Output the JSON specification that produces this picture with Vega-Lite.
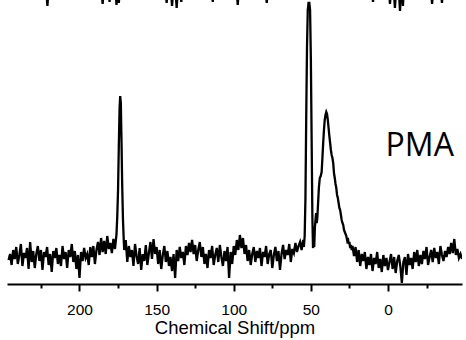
{
  "$schema": "https://vega.github.io/schema/vega-lite/v6.json",
  "width": 455,
  "height": 284,
  "autosize": "none",
  "padding": {"left": 7, "top": 0, "right": 4, "bottom": 56},
  "background": "white",
  "config": {"view": {"stroke": null}},
  "datasets": {
    "spec": [
      {"s":"PMA","x":246,"y":-2},{"s":"PMA","x":245,"y":4},{"s":"PMA","x":244,"y":-7},{"s":"PMA","x":243,"y":8},{"s":"PMA","x":242,"y":-1},{"s":"PMA","x":241,"y":11},{"s":"PMA","x":240,"y":-6},{"s":"PMA","x":239,"y":3},{"s":"PMA","x":238,"y":14},{"s":"PMA","x":237,"y":-8},
      {"s":"PMA","x":236,"y":5},{"s":"PMA","x":235,"y":0},{"s":"PMA","x":234,"y":10},{"s":"PMA","x":233,"y":-11},{"s":"PMA","x":232,"y":16},{"s":"PMA","x":231,"y":-4},{"s":"PMA","x":230,"y":7},{"s":"PMA","x":229,"y":-10},{"s":"PMA","x":228,"y":4},{"s":"PMA","x":227,"y":12},
      {"s":"PMA","x":226,"y":-3},{"s":"PMA","x":225,"y":8},{"s":"PMA","x":224,"y":-12},{"s":"PMA","x":223,"y":6},{"s":"PMA","x":222,"y":1},{"s":"PMA","x":221,"y":11},{"s":"PMA","x":220,"y":-7},{"s":"PMA","x":219,"y":4},{"s":"PMA","x":218,"y":-14},{"s":"PMA","x":217,"y":7},
      {"s":"PMA","x":216,"y":0},{"s":"PMA","x":215,"y":10},{"s":"PMA","x":214,"y":-6},{"s":"PMA","x":213,"y":3},{"s":"PMA","x":212,"y":-8},{"s":"PMA","x":211,"y":12},{"s":"PMA","x":210,"y":-1},{"s":"PMA","x":209,"y":6},{"s":"PMA","x":208,"y":-10},{"s":"PMA","x":207,"y":8},
      {"s":"PMA","x":206,"y":1},{"s":"PMA","x":205,"y":14},{"s":"PMA","x":204,"y":-4},{"s":"PMA","x":203,"y":7},{"s":"PMA","x":202,"y":-11},{"s":"PMA","x":201,"y":3},{"s":"PMA","x":200,"y":-20},{"s":"PMA","x":199,"y":6},{"s":"PMA","x":198,"y":-3},{"s":"PMA","x":197,"y":10},
      {"s":"PMA","x":196,"y":0},{"s":"PMA","x":195,"y":4},{"s":"PMA","x":194,"y":-7},{"s":"PMA","x":193,"y":11},{"s":"PMA","x":192,"y":1},{"s":"PMA","x":191,"y":12},{"s":"PMA","x":190,"y":-6},{"s":"PMA","x":189,"y":8},{"s":"PMA","x":188,"y":16},{"s":"PMA","x":187,"y":3},
      {"s":"PMA","x":186,"y":20},{"s":"PMA","x":185,"y":6},{"s":"PMA","x":184,"y":17},{"s":"PMA","x":183,"y":4},{"s":"PMA","x":182,"y":22},{"s":"PMA","x":181,"y":9},{"s":"PMA","x":180,"y":15},{"s":"PMA","x":179,"y":5},{"s":"PMA","x":178,"y":19},{"s":"PMA","x":177,"y":9},
      {"s":"PMA","x":176,"y":24},{"s":"PMA","x":175.5,"y":42},{"s":"PMA","x":175,"y":68},{"s":"PMA","x":174.5,"y":112},{"s":"PMA","x":174,"y":150},{"s":"PMA","x":173.6,"y":162},{"s":"PMA","x":173.2,"y":155},{"s":"PMA","x":172.8,"y":120},{"s":"PMA","x":172.3,"y":72},{"s":"PMA","x":171.8,"y":38},
      {"s":"PMA","x":171.3,"y":18},{"s":"PMA","x":171,"y":8},{"s":"PMA","x":170,"y":18},{"s":"PMA","x":169,"y":-4},{"s":"PMA","x":168,"y":12},{"s":"PMA","x":167,"y":1},{"s":"PMA","x":166,"y":8},{"s":"PMA","x":165,"y":-8},{"s":"PMA","x":164,"y":14},{"s":"PMA","x":163,"y":2},
      {"s":"PMA","x":162,"y":-6},{"s":"PMA","x":161,"y":10},{"s":"PMA","x":160,"y":-12},{"s":"PMA","x":159,"y":4},{"s":"PMA","x":158,"y":-3},{"s":"PMA","x":157,"y":13},{"s":"PMA","x":156,"y":-7},{"s":"PMA","x":155,"y":5},{"s":"PMA","x":154,"y":16},{"s":"PMA","x":153,"y":-1},
      {"s":"PMA","x":152,"y":19},{"s":"PMA","x":151,"y":4},{"s":"PMA","x":150,"y":11},{"s":"PMA","x":149,"y":-6},{"s":"PMA","x":148,"y":8},{"s":"PMA","x":147,"y":-11},{"s":"PMA","x":146,"y":3},{"s":"PMA","x":145,"y":12},{"s":"PMA","x":144,"y":-4},{"s":"PMA","x":143,"y":7},
      {"s":"PMA","x":142,"y":-8},{"s":"PMA","x":141,"y":1},{"s":"PMA","x":140,"y":-13},{"s":"PMA","x":139,"y":4},{"s":"PMA","x":138,"y":-20},{"s":"PMA","x":137,"y":8},{"s":"PMA","x":136,"y":-3},{"s":"PMA","x":135,"y":11},{"s":"PMA","x":134,"y":0},{"s":"PMA","x":133,"y":6},
      {"s":"PMA","x":132,"y":-7},{"s":"PMA","x":131,"y":12},{"s":"PMA","x":130,"y":3},{"s":"PMA","x":129,"y":15},{"s":"PMA","x":128,"y":6},{"s":"PMA","x":127,"y":18},{"s":"PMA","x":126,"y":4},{"s":"PMA","x":125,"y":13},{"s":"PMA","x":124,"y":-3},{"s":"PMA","x":123,"y":8},
      {"s":"PMA","x":122,"y":16},{"s":"PMA","x":121,"y":1},{"s":"PMA","x":120,"y":11},{"s":"PMA","x":119,"y":-6},{"s":"PMA","x":118,"y":4},{"s":"PMA","x":117,"y":-10},{"s":"PMA","x":116,"y":8},{"s":"PMA","x":115,"y":0},{"s":"PMA","x":114,"y":12},{"s":"PMA","x":113,"y":-7},
      {"s":"PMA","x":112,"y":3},{"s":"PMA","x":111,"y":10},{"s":"PMA","x":110,"y":-4},{"s":"PMA","x":109,"y":13},{"s":"PMA","x":108,"y":1},{"s":"PMA","x":107,"y":-8},{"s":"PMA","x":106,"y":7},{"s":"PMA","x":105,"y":-3},{"s":"PMA","x":104,"y":11},{"s":"PMA","x":103,"y":-20},
      {"s":"PMA","x":102,"y":6},{"s":"PMA","x":101,"y":-6},{"s":"PMA","x":100,"y":12},{"s":"PMA","x":99,"y":3},{"s":"PMA","x":98,"y":18},{"s":"PMA","x":97,"y":8},{"s":"PMA","x":96,"y":23},{"s":"PMA","x":95,"y":10},{"s":"PMA","x":94,"y":20},{"s":"PMA","x":93,"y":4},
      {"s":"PMA","x":92,"y":13},{"s":"PMA","x":91,"y":-3},{"s":"PMA","x":90,"y":8},{"s":"PMA","x":89,"y":-7},{"s":"PMA","x":88,"y":4},{"s":"PMA","x":87,"y":11},{"s":"PMA","x":86,"y":-4},{"s":"PMA","x":85,"y":7},{"s":"PMA","x":84,"y":0},{"s":"PMA","x":83,"y":10},
      {"s":"PMA","x":82,"y":-8},{"s":"PMA","x":81,"y":6},{"s":"PMA","x":80,"y":1},{"s":"PMA","x":79,"y":12},{"s":"PMA","x":78,"y":-6},{"s":"PMA","x":77,"y":4},{"s":"PMA","x":76,"y":8},{"s":"PMA","x":75,"y":-10},{"s":"PMA","x":74,"y":3},{"s":"PMA","x":73,"y":11},
      {"s":"PMA","x":72,"y":-3},{"s":"PMA","x":71,"y":7},{"s":"PMA","x":70,"y":-12},{"s":"PMA","x":69,"y":4},{"s":"PMA","x":68,"y":13},{"s":"PMA","x":67,"y":-1},{"s":"PMA","x":66,"y":8},{"s":"PMA","x":65,"y":3},{"s":"PMA","x":64,"y":14},{"s":"PMA","x":63,"y":-4},
      {"s":"PMA","x":62,"y":9},{"s":"PMA","x":61,"y":5},{"s":"PMA","x":60,"y":15},{"s":"PMA","x":59,"y":6},{"s":"PMA","x":58,"y":12},{"s":"PMA","x":57,"y":16},{"s":"PMA","x":56,"y":8},{"s":"PMA","x":55,"y":18},{"s":"PMA","x":54.5,"y":11},{"s":"PMA","x":54,"y":22},
      {"s":"PMA","x":53.5,"y":60},{"s":"PMA","x":53,"y":140},{"s":"PMA","x":52.5,"y":210},{"s":"PMA","x":52,"y":248},{"s":"PMA","x":51.5,"y":255},{"s":"PMA","x":51,"y":255},{"s":"PMA","x":50.5,"y":248},{"s":"PMA","x":50,"y":200},{"s":"PMA","x":49.5,"y":120},{"s":"PMA","x":49,"y":40},
      {"s":"PMA","x":48.6,"y":10},{"s":"PMA","x":48.2,"y":14},{"s":"PMA","x":47.8,"y":11},{"s":"PMA","x":47.4,"y":30},{"s":"PMA","x":47,"y":38},{"s":"PMA","x":46.6,"y":45},{"s":"PMA","x":46.2,"y":35},{"s":"PMA","x":45.8,"y":40},{"s":"PMA","x":45.3,"y":55},{"s":"PMA","x":44.8,"y":70},
      {"s":"PMA","x":44.2,"y":80},{"s":"PMA","x":43.6,"y":82},{"s":"PMA","x":43,"y":86},{"s":"PMA","x":42.5,"y":100},{"s":"PMA","x":42,"y":115},{"s":"PMA","x":41.5,"y":128},{"s":"PMA","x":41,"y":138},{"s":"PMA","x":40.5,"y":143},{"s":"PMA","x":40,"y":146},{"s":"PMA","x":39.5,"y":144},
      {"s":"PMA","x":39,"y":138},{"s":"PMA","x":38.5,"y":130},{"s":"PMA","x":38,"y":122},{"s":"PMA","x":37.5,"y":115},{"s":"PMA","x":37,"y":108},{"s":"PMA","x":36.5,"y":103},{"s":"PMA","x":36,"y":100},{"s":"PMA","x":35.5,"y":95},{"s":"PMA","x":35,"y":85},{"s":"PMA","x":34.5,"y":80},
      {"s":"PMA","x":34,"y":74},{"s":"PMA","x":33.5,"y":70},{"s":"PMA","x":33,"y":63},{"s":"PMA","x":32.5,"y":60},{"s":"PMA","x":32,"y":55},{"s":"PMA","x":31.5,"y":50},{"s":"PMA","x":31,"y":48},{"s":"PMA","x":30.5,"y":43},{"s":"PMA","x":30,"y":38},{"s":"PMA","x":29.5,"y":35},
      {"s":"PMA","x":29,"y":33},{"s":"PMA","x":28.5,"y":28},{"s":"PMA","x":28,"y":26},{"s":"PMA","x":27.5,"y":24},{"s":"PMA","x":27,"y":22},{"s":"PMA","x":26.5,"y":18},{"s":"PMA","x":26,"y":20},{"s":"PMA","x":25.5,"y":14},{"s":"PMA","x":25,"y":16},{"s":"PMA","x":24.5,"y":10},
      {"s":"PMA","x":24,"y":13},{"s":"PMA","x":23.5,"y":8},{"s":"PMA","x":23,"y":12},{"s":"PMA","x":22,"y":2},{"s":"PMA","x":21,"y":11},{"s":"PMA","x":20,"y":-4},{"s":"PMA","x":19,"y":8},{"s":"PMA","x":18,"y":-8},{"s":"PMA","x":17,"y":4},{"s":"PMA","x":16,"y":-3},
      {"s":"PMA","x":15,"y":6},{"s":"PMA","x":14,"y":-11},{"s":"PMA","x":13,"y":1},{"s":"PMA","x":12,"y":-7},{"s":"PMA","x":11,"y":4},{"s":"PMA","x":10,"y":-13},{"s":"PMA","x":9,"y":0},{"s":"PMA","x":8,"y":-6},{"s":"PMA","x":7,"y":6},{"s":"PMA","x":6,"y":-10},
      {"s":"PMA","x":5,"y":-1},{"s":"PMA","x":4,"y":-14},{"s":"PMA","x":3,"y":3},{"s":"PMA","x":2,"y":-8},{"s":"PMA","x":1,"y":0},{"s":"PMA","x":0,"y":-12},{"s":"PMA","x":-1,"y":-4},{"s":"PMA","x":-2,"y":4},{"s":"PMA","x":-3,"y":-11},{"s":"PMA","x":-4,"y":1},
      {"s":"PMA","x":-5,"y":-15},{"s":"PMA","x":-6,"y":-3},{"s":"PMA","x":-7,"y":3},{"s":"PMA","x":-8,"y":-8},{"s":"PMA","x":-9,"y":-25},{"s":"PMA","x":-10,"y":-4},{"s":"PMA","x":-11,"y":1},{"s":"PMA","x":-12,"y":-17},{"s":"PMA","x":-13,"y":4},{"s":"PMA","x":-14,"y":-7},
      {"s":"PMA","x":-15,"y":0},{"s":"PMA","x":-16,"y":-11},{"s":"PMA","x":-17,"y":6},{"s":"PMA","x":-18,"y":-4},{"s":"PMA","x":-19,"y":8},{"s":"PMA","x":-20,"y":-8},{"s":"PMA","x":-21,"y":3},{"s":"PMA","x":-22,"y":-6},{"s":"PMA","x":-23,"y":7},{"s":"PMA","x":-24,"y":-1},
      {"s":"PMA","x":-25,"y":11},{"s":"PMA","x":-26,"y":-7},{"s":"PMA","x":-27,"y":1},{"s":"PMA","x":-28,"y":8},{"s":"PMA","x":-29,"y":-4},{"s":"PMA","x":-30,"y":10},{"s":"PMA","x":-31,"y":0},{"s":"PMA","x":-32,"y":6},{"s":"PMA","x":-33,"y":-6},{"s":"PMA","x":-34,"y":12},
      {"s":"PMA","x":-35,"y":3},{"s":"PMA","x":-36,"y":-3},{"s":"PMA","x":-37,"y":7},{"s":"PMA","x":-38,"y":1},{"s":"PMA","x":-39,"y":11},{"s":"PMA","x":-40,"y":4},{"s":"PMA","x":-41,"y":15},{"s":"PMA","x":-42,"y":5},{"s":"PMA","x":-43,"y":19},{"s":"PMA","x":-44,"y":3},
      {"s":"PMA","x":-45,"y":9},{"s":"PMA","x":-46,"y":0},{"s":"PMA","x":-47,"y":4},{"s":"PMA","x":-48,"y":-1},
      {"s":"top","x":247,"y":275},{"s":"top","x":221.8,"y":275},{"s":"top","x":220.8,"y":252},{"s":"top","x":219.8,"y":275},{"s":"top","x":186,"y":275},{"s":"top","x":185,"y":254},{"s":"top","x":184,"y":275},{"s":"top","x":181.5,"y":275},{"s":"top","x":180.5,"y":256},{"s":"top","x":179.5,"y":275},
      {"s":"top","x":177,"y":275},{"s":"top","x":176,"y":253},{"s":"top","x":175,"y":275},{"s":"top","x":174.5,"y":255},{"s":"top","x":173.5,"y":275},{"s":"top","x":144.5,"y":275},{"s":"top","x":143.5,"y":255},{"s":"top","x":142.5,"y":275},{"s":"top","x":141,"y":275},{"s":"top","x":140,"y":252},
      {"s":"top","x":139,"y":275},{"s":"top","x":138,"y":275},{"s":"top","x":137,"y":250},{"s":"top","x":136,"y":275},{"s":"top","x":135,"y":275},{"s":"top","x":134,"y":256},{"s":"top","x":133,"y":275},{"s":"top","x":114.6,"y":275},{"s":"top","x":113.6,"y":256},{"s":"top","x":112.6,"y":275},
      {"s":"top","x":98.4,"y":275},{"s":"top","x":97.4,"y":253},{"s":"top","x":96.4,"y":275},{"s":"top","x":79.6,"y":275},{"s":"top","x":78.6,"y":255},{"s":"top","x":77.6,"y":275},{"s":"top","x":10.7,"y":275},{"s":"top","x":9.7,"y":256},{"s":"top","x":8.7,"y":275},{"s":"top","x":-0.3,"y":275},
      {"s":"top","x":-1.3,"y":254},{"s":"top","x":-2.3,"y":275},{"s":"top","x":-3.5,"y":275},{"s":"top","x":-4.5,"y":250},{"s":"top","x":-5.5,"y":275},{"s":"top","x":-6.8,"y":275},{"s":"top","x":-7.8,"y":247},{"s":"top","x":-8.8,"y":275},{"s":"top","x":-9.2,"y":275},{"s":"top","x":-9.7,"y":252},
      {"s":"top","x":-10.5,"y":275},{"s":"top","x":-27.6,"y":275},{"s":"top","x":-28.6,"y":254},{"s":"top","x":-29.6,"y":275},{"s":"top","x":-34,"y":275},{"s":"top","x":-35,"y":255},{"s":"top","x":-36,"y":275},{"s":"top","x":-48,"y":275}
    ],
    "labels": [{"label": "PMA", "x": -20.6, "y": 102}]
  },
  "layer": [
    {
      "data": {"name": "spec"},
      "mark": {"type": "line", "color": "black", "strokeWidth": 2.3, "clip": true, "strokeJoin": "miter"},
      "encoding": {
        "x": {
          "field": "x", "type": "quantitative",
          "scale": {"domain": [247, -48], "nice": false, "zero": false},
          "axis": {
            "title": "Chemical Shift/ppm",
            "values": [225, 200, 175, 150, 125, 100, 75, 50, 25, 0, -25],
            "labelExpr": "datum.value % 50 == 0 ? datum.label : ''",
            "tickSize": {"condition": {"test": "datum.value % 50 == 0", "value": 7}, "value": 4},
            "tickWidth": 2,
            "tickColor": "black",
            "domainColor": "black",
            "domainWidth": 2,
            "grid": false,
            "labelFont": "Liberation Sans",
            "labelFontSize": 15.5,
            "labelColor": "black",
            "labelPadding": 11,
            "labelFlush": false,
            "titleFont": "Liberation Sans",
            "titleFontSize": 18.5,
            "titleFontWeight": "normal",
            "titleColor": "black",
            "titlePadding": 1
          }
        },
        "y": {
          "field": "y", "type": "quantitative",
          "scale": {"domain": [-26, 258], "nice": false, "zero": false},
          "axis": null
        },
        "detail": {"field": "s"}
      }
    },
    {
      "data": {"name": "labels"},
      "mark": {"type": "text", "font": "Open Sans", "fontSize": 32, "color": "black", "align": "center", "baseline": "alphabetic"},
      "encoding": {
        "x": {"field": "x", "type": "quantitative"},
        "y": {"field": "y", "type": "quantitative"},
        "text": {"field": "label"}
      }
    }
  ]
}
